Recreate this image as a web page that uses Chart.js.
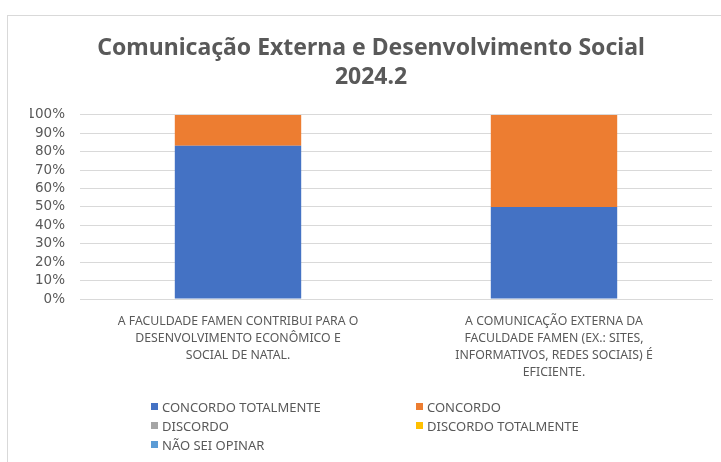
<!DOCTYPE html>
<html>
<head>
<meta charset="utf-8">
<script src="https://cdn.jsdelivr.net/npm/chart.js@4"></script>
<style>
  html, body { margin: 0; padding: 0; background: #fff; overflow: hidden; }
  body { width: 721px; height: 462px; position: relative; font-family: "Noto Sans", sans-serif; }
  #frame { position: absolute; left: 7px; top: 15px; width: 730px; height: 470px; border: 1px solid #d9d9d9; box-sizing: border-box; }
  #wrap { position: absolute; left: 0; top: 0; width: 721px; height: 400px; }
  #legend { position: absolute; left: 151px; top: 398px; display: grid; grid-template-columns: 265px 260px; row-gap: 2px; font-size: 13px; color: #595959; }
  #legend div { display: flex; align-items: center; height: 17px; white-space: nowrap; }
  #legend span.box { display: inline-block; width: 7px; height: 7px; margin-right: 4px; }
</style>
</head>
<body>
<div id="frame"></div>
<div id="wrap"><canvas id="chart"></canvas></div>
<div id="legend"></div>
<script>
const categories = [
  ['A FACULDADE FAMEN CONTRIBUI PARA O', 'DESENVOLVIMENTO ECONÔMICO E', 'SOCIAL DE NATAL.'],
  ['A COMUNICAÇÃO EXTERNA DA', 'FACULDADE FAMEN (EX.: SITES,', 'INFORMATIVOS, REDES SOCIAIS) É', 'EFICIENTE.']
];
const seriesNames = ['CONCORDO TOTALMENTE', 'CONCORDO', 'DISCORDO', 'DISCORDO TOTALMENTE', 'NÃO SEI OPINAR'];
const concordoTotalmente = [83.3, 50];
const concordo = [16.7, 50];
const discordo = [0, 0];
const discordoTotalmente = [0, 0];
const naoSeiOpinar = [0, 0];
const colors = ['#4472C4', '#ED7D31', '#A5A5A5', '#FFC000', '#5B9BD5'];

const textColor = '#595959';
const values = [concordoTotalmente, concordo, discordo, discordoTotalmente, naoSeiOpinar];

const chart = new Chart(document.getElementById('chart'), {
  type: 'bar',
  data: {
    labels: categories,
    datasets: seriesNames.map((name, i) => ({
      label: name,
      data: values[i],
      backgroundColor: colors[i],
      barPercentage: 1,
      categoryPercentage: 0.4
    }))
  },
  options: {
    responsive: true,
    maintainAspectRatio: false,
    animation: false,
    // left padding shifts the title centre; y axis width makes up the rest
    layout: { padding: { left: 30, right: 9, top: 0, bottom: 0 } },
    plugins: {
      legend: { display: false },
      tooltip: { enabled: false },
      title: {
        display: true,
        text: ['Comunicação Externa e Desenvolvimento Social', '2024.2'],
        color: textColor,
        font: { family: 'Noto Sans', size: 23, weight: 'bold', lineHeight: 1.26 },
        padding: { top: 34, bottom: 23 }
      }
    },
    scales: {
      x: {
        stacked: true,
        grid: { display: false },
        border: { color: '#d9d9d9' },
        ticks: {
          color: textColor,
          font: { family: 'Noto Sans', size: 12.3, lineHeight: 1.38 },
          padding: 6,
          maxRotation: 0,
          autoSkip: false
        },
        afterFit: (s) => { s.height = 101; }
      },
      y: {
        stacked: true,
        min: 0,
        max: 100,
        border: { display: false },
        grid: { color: '#d9d9d9', drawTicks: false },
        ticks: {
          stepSize: 10,
          autoSkip: false,
          color: textColor,
          font: { family: 'DejaVu Sans', size: 13.5 },
          padding: 15,
          callback: (v) => v + '%'
        },
        afterFit: (s) => { s.width = 50; }
      }
    }
  }
});

const legend = document.getElementById('legend');
chart.data.datasets.forEach((ds) => {
  const item = document.createElement('div');
  item.innerHTML = '<span class="box" style="background:' + ds.backgroundColor + '"></span>' + ds.label;
  legend.appendChild(item);
});
</script>
</body>
</html>
